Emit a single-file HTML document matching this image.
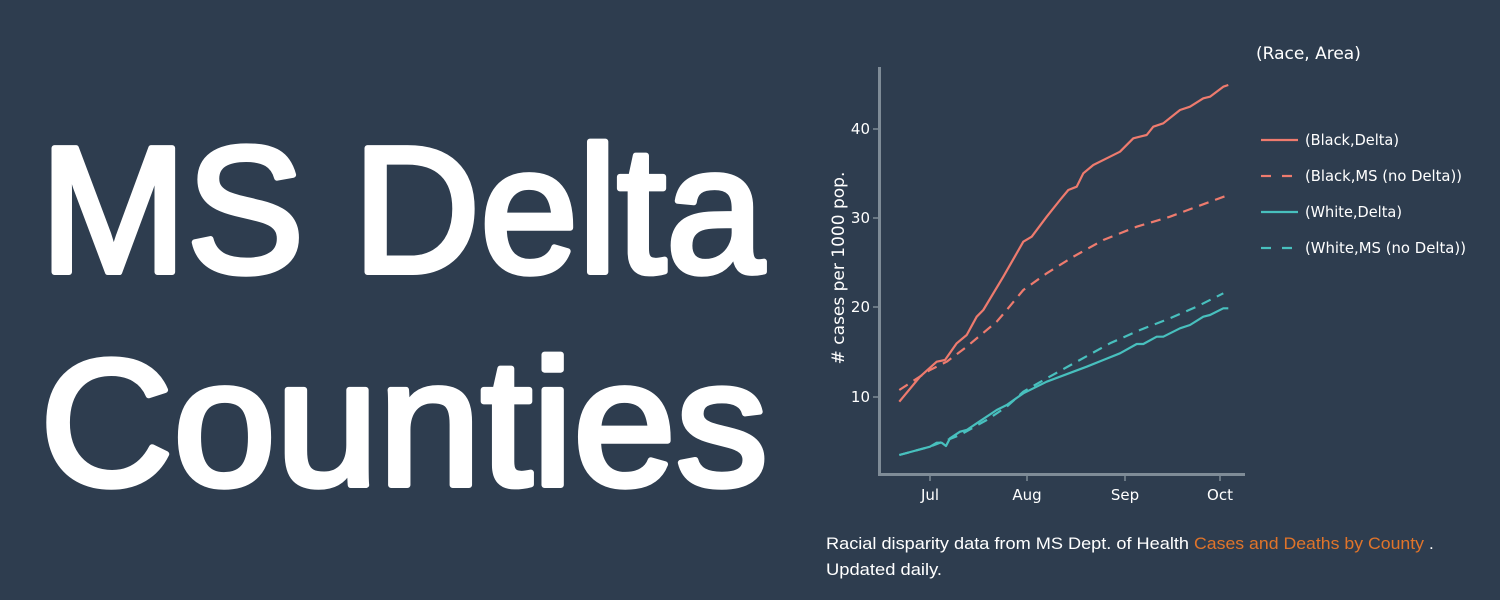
<!DOCTYPE html>
<html><head><meta charset="utf-8"><style>
html,body{margin:0;padding:0;background:#2e3d4f;width:1500px;height:600px;overflow:hidden}
</style></head><body>
<svg width="1500" height="600" xmlns="http://www.w3.org/2000/svg" style="position:absolute;left:0;top:0">
<rect width="1500" height="600" fill="#2e3d4f"/>
<g font-family="Liberation Sans, sans-serif" fill="#ffffff" stroke="#ffffff" stroke-width="6" stroke-linejoin="round">
<text x="40" y="272" font-size="180" textLength="724" lengthAdjust="spacingAndGlyphs">MS Delta</text>
<text x="40" y="485" font-size="180" textLength="728" lengthAdjust="spacingAndGlyphs">Counties</text>
</g>
<g stroke="#7f8c97" stroke-width="3" fill="none">
<line x1="879.5" y1="67" x2="879.5" y2="476"/>
<line x1="878" y1="474.5" x2="1245" y2="474.5"/>
</g>
<g stroke="#7f8c97" stroke-width="1.5">
<line x1="873" y1="129" x2="879" y2="129"/><line x1="873" y1="218" x2="879" y2="218"/>
<line x1="873" y1="307" x2="879" y2="307"/><line x1="873" y1="397" x2="879" y2="397"/>
<line x1="930" y1="475" x2="930" y2="481"/><line x1="1027" y1="475" x2="1027" y2="481"/>
<line x1="1125" y1="475" x2="1125" y2="481"/><line x1="1220" y1="475" x2="1220" y2="481"/>
</g>
<g font-family="DejaVu Sans, sans-serif" font-size="15" fill="#ffffff">
<g text-anchor="end">
<text x="870" y="134">40</text><text x="870" y="223">30</text>
<text x="870" y="312">20</text><text x="870" y="402">10</text>
</g>
<g text-anchor="middle">
<text x="930" y="500">Jul</text><text x="1027" y="500">Aug</text>
<text x="1125" y="500">Sep</text><text x="1220" y="500">Oct</text>
</g>
<text transform="translate(844,268) rotate(-90)" text-anchor="middle" font-size="17">#  cases per 1000 pop.</text>
<text x="1256" y="59" font-size="17">(Race, Area)</text>
<text x="1305" y="145" textLength="94" lengthAdjust="spacingAndGlyphs">(Black,Delta)</text>
<text x="1305" y="181" textLength="157" lengthAdjust="spacingAndGlyphs">(Black,MS (no Delta))</text>
<text x="1305" y="217" textLength="97" lengthAdjust="spacingAndGlyphs">(White,Delta)</text>
<text x="1305" y="253" textLength="161" lengthAdjust="spacingAndGlyphs">(White,MS (no Delta))</text>
</g>
<g fill="none" stroke-width="2.2" stroke-linejoin="round">
<line x1="1261" y1="140" x2="1298" y2="140" stroke="#ee7b6e"/>
<line x1="1261" y1="176" x2="1298" y2="176" stroke="#ee7b6e" stroke-dasharray="10,11"/>
<line x1="1261" y1="212" x2="1298" y2="212" stroke="#48c0be"/>
<line x1="1261" y1="248" x2="1298" y2="248" stroke="#48c0be" stroke-dasharray="10,11"/>
<polyline stroke="#ee7b6e" points="899.3,401.7 920,376.7 936.7,361.7 945,360 956.7,343.3 966.7,335 976.7,316.7 983.3,310 1003.3,276.7 1023.3,241.7 1031.7,236.7 1046.7,216.7 1060,200 1068.3,190 1076.7,186.7 1083.3,173.3 1093.3,165 1110,156.7 1120,151.7 1133.3,138.3 1146.7,135 1153.3,126.7 1163.3,123.3 1180,110 1190,106.7 1203.3,98.3 1210,96.7 1223.3,86.7 1228.3,85"/>
<polyline stroke="#ee7b6e" stroke-dasharray="10,7" points="899.3,390 930,370 940,365 946.7,361.7 966.7,346.7 996.7,321.7 1006.7,310 1023.3,290 1046.7,273.3 1073.3,256.7 1103.3,240 1136.7,226.7 1170,216.7 1196.7,206.7 1228.3,195"/>
<polyline stroke="#48c0be" points="899.3,455 930,446.7 936.7,442.7 941.7,442.7 946,446 950,438.3 960,431.7 966.7,430 976.7,423.3 996.7,410 1006.7,405 1023.3,393.3 1046.7,381.7 1073.3,371.7 1086.7,366.7 1103.3,360 1120,353.3 1136.7,344 1143.3,344 1156.7,336.7 1163.3,336.7 1180,328.3 1190,325 1203.3,316.7 1210,315 1223.3,308.3 1228.3,308.3"/>
<polyline stroke="#48c0be" stroke-dasharray="10,7" points="899.3,455 930,446.7 960,435 986.7,420 1006.7,406.7 1023.3,391.7 1046.7,378.3 1076.7,361.7 1110,343.3 1140,330 1170,318.3 1196.7,306.7 1223.3,293.3"/>
</g>
<g font-family="Liberation Sans, sans-serif" font-size="17" fill="#ffffff">
<text x="826" y="549" textLength="363" lengthAdjust="spacingAndGlyphs">Racial disparity data from MS Dept. of Health</text>
<text x="1194" y="549" fill="#e0742a" textLength="230" lengthAdjust="spacingAndGlyphs">Cases and Deaths by County</text>
<text x="1429" y="549">.</text>
<text x="826" y="575" textLength="116" lengthAdjust="spacingAndGlyphs">Updated daily.</text>
</g>
</svg>
</body></html>
